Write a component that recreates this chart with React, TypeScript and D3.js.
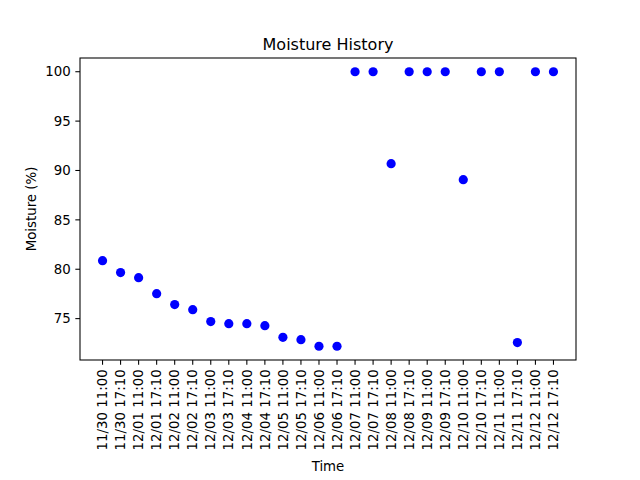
import React from "react";
import * as d3 from "d3";

const times: string[] = [
  "11/30 11:00", "11/30 17:10",
  "12/01 11:00", "12/01 17:10",
  "12/02 11:00", "12/02 17:10",
  "12/03 11:00", "12/03 17:10",
  "12/04 11:00", "12/04 17:10",
  "12/05 11:00", "12/05 17:10",
  "12/06 11:00", "12/06 17:10",
  "12/07 11:00", "12/07 17:10",
  "12/08 11:00", "12/08 17:10",
  "12/09 11:00", "12/09 17:10",
  "12/10 11:00", "12/10 17:10",
  "12/11 11:00", "12/11 17:10",
  "12/12 11:00", "12/12 17:10",
];

const moisture: number[] = [
  80.87, 79.66, 79.15, 77.53, 76.42, 75.91, 74.7, 74.49, 74.49, 74.29,
  73.11, 72.87, 72.2, 72.2, 100, 100, 90.69, 100, 100, 100,
  89.07, 100, 100, 72.57, 100, 100,
];

const yTicks: number[] = [75, 80, 85, 90, 95, 100];

const title = "Moisture History";
const xLabel = "Time";
const yLabel = "Moisture (%)";

const W = 640;
const H = 480;
const left = 80;
const right = 576;
const top = 58;
const bottom = 360;
const font = "DejaVu Sans, sans-serif";

export default function App() {
  const x = d3.scalePoint<string>().domain(times).range([left, right]).padding(1.25);
  const [mn, mx] = d3.extent(moisture) as [number, number];
  const pad = (mx - mn) * 0.05;
  const y = d3.scaleLinear().domain([mn - pad, mx + pad]).range([bottom, top]);
  const tickLen = 4.67;
  const tickPad = 4.67;

  return (
    <svg width={W} height={H} style={{ position: "absolute", left: 0, top: 0, background: "#fff" }} fontFamily={font}>
      <rect x={0} y={0} width={W} height={H} fill="#fff" />
      {/* points */}
      {moisture.map((v, i) => (
        <circle key={i} cx={x(times[i])} cy={y(v)} r={4.6} fill="#0000ff" />
      ))}
      {/* frame */}
      <rect x={left} y={top} width={right - left} height={bottom - top} fill="none" stroke="#000" strokeWidth={1.07} />
      {/* y ticks */}
      {yTicks.map((t) => (
        <g key={t}>
          <line x1={left - tickLen} x2={left} y1={y(t)} y2={y(t)} stroke="#000" strokeWidth={1.07} />
          <text x={left - tickLen - tickPad} y={y(t)} dy="0.35em" textAnchor="end" fontSize={13.33} fill="#000">
            {t}
          </text>
        </g>
      ))}
      {/* x ticks */}
      {times.map((t) => {
        const px = x(t) as number;
        const ty = bottom + tickLen + tickPad;
        return (
          <g key={t}>
            <line x1={px} x2={px} y1={bottom} y2={bottom + tickLen} stroke="#000" strokeWidth={1.07} />
            <text
              transform={`translate(${px},${ty}) rotate(-90)`}
              textAnchor="end"
              dy="0.35em"
              fontSize={13.33}
              fill="#000"
            >
              {t}
            </text>
          </g>
        );
      })}
      {/* title */}
      <text x={(left + right) / 2} y={top - 8} textAnchor="middle" fontSize={16} fill="#000">
        {title}
      </text>
      {/* x label */}
      <text x={(left + right) / 2} y={471} textAnchor="middle" fontSize={13.33} fill="#000">
        {xLabel}
      </text>
      {/* y label */}
      <text
        transform={`translate(${36},${(top + bottom) / 2}) rotate(-90)`}
        textAnchor="middle"
        fontSize={13.33}
        fill="#000"
      >
        {yLabel}
      </text>
    </svg>
  );
}
